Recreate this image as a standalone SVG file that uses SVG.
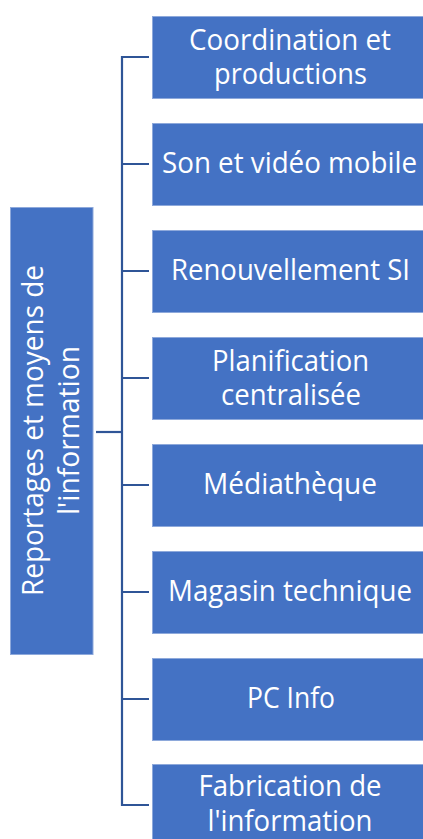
<svg xmlns="http://www.w3.org/2000/svg" width="423" height="839" viewBox="0 0 423 839">
<style>
.box{fill:#4472C4;stroke:#8EA9DB;stroke-width:1}
.t{font-family:"Open Sans","Noto Sans","DejaVu Sans",sans-serif;font-size:28.5px;fill:#ffffff;text-anchor:middle}
.c{fill:none;stroke:#2F5597;stroke-width:2.2}
</style>
<rect width="423" height="839" fill="#ffffff"/>
<g id="connectors">
<path class="c" d="M149 57 H122 V805 H149"/>
<path class="c" d="M122 164 H149 M122 271 H149 M122 378 H149 M122 485 H149 M122 592 H149 M122 699 H149"/>
<path class="c" d="M96 432 H122"/>
</g>
<g id="root">
<rect class="box" x="10.5" y="207.5" width="82.5" height="447"/>
<text class="t" transform="translate(43,430.5) rotate(-90)" textLength="331" lengthAdjust="spacingAndGlyphs">Reportages et moyens de</text>
<text class="t" transform="translate(79,430.5) rotate(-90)" textLength="169" lengthAdjust="spacingAndGlyphs">l'information</text>
</g>
<g id="n1">
<rect class="box" x="152.5" y="16.5" width="276" height="82"/>
<text class="t" x="290" y="49.5" textLength="202" lengthAdjust="spacingAndGlyphs">Coordination et</text>
<text class="t" x="290.5" y="84" textLength="153" lengthAdjust="spacingAndGlyphs">productions</text>
</g>
<g id="n2">
<rect class="box" x="152.5" y="123.5" width="276" height="82"/>
<text class="t" x="289.5" y="172.5" textLength="255" lengthAdjust="spacingAndGlyphs">Son et vidéo mobile</text>
</g>
<g id="n3">
<rect class="box" x="152.5" y="230.5" width="276" height="82"/>
<text class="t" x="290.5" y="280" textLength="239" lengthAdjust="spacingAndGlyphs">Renouvellement SI</text>
</g>
<g id="n4">
<rect class="box" x="152.5" y="337.5" width="276" height="82"/>
<text class="t" x="290.5" y="370.5" textLength="157" lengthAdjust="spacingAndGlyphs">Planification</text>
<text class="t" x="291" y="405" textLength="140" lengthAdjust="spacingAndGlyphs">centralisée</text>
</g>
<g id="n5">
<rect class="box" x="152.5" y="444.5" width="276" height="82"/>
<text class="t" x="290" y="494" textLength="174" lengthAdjust="spacingAndGlyphs">Médiathèque</text>
</g>
<g id="n6">
<rect class="box" x="152.5" y="551.5" width="276" height="82"/>
<text class="t" x="290" y="601" textLength="244" lengthAdjust="spacingAndGlyphs">Magasin technique</text>
</g>
<g id="n7">
<rect class="box" x="152.5" y="658.5" width="276" height="82"/>
<text class="t" x="291" y="708" textLength="88" lengthAdjust="spacingAndGlyphs">PC Info</text>
</g>
<g id="n8">
<rect class="box" x="152.5" y="764.5" width="276" height="82"/>
<text class="t" x="290" y="796" textLength="183" lengthAdjust="spacingAndGlyphs">Fabrication de</text>
<text class="t" x="290" y="831" textLength="165" lengthAdjust="spacingAndGlyphs">l'information</text>
</g>
</svg>
